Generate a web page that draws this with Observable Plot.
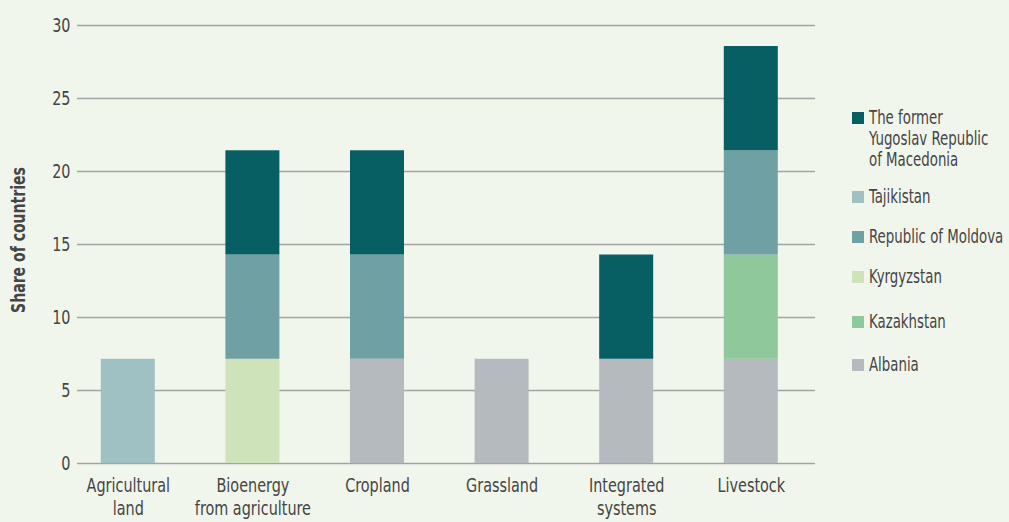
<!DOCTYPE html>
<html>
<head>
<meta charset="utf-8">
<script src="https://cdn.jsdelivr.net/npm/d3@7"></script>
<script src="https://cdn.jsdelivr.net/npm/@observablehq/plot@0.6"></script>
<style>
  html, body { margin: 0; padding: 0; background: #f1f6ec; }
  #wrap { position: relative; width: 1009px; height: 522px; font-family: "DejaVu Sans Condensed", "DejaVu Sans", sans-serif; color: #454545; overflow: hidden; }
  #ylabel { position: absolute; left: 18px; top: 240px; transform: translate(-50%, -50%) rotate(-90deg) scaleX(0.78); font-size: 20px; font-weight: bold; white-space: nowrap; }
  #legend { position: absolute; left: 852px; top: 107px; font-size: 19px; }
  .item { display: flex; align-items: flex-start; line-height: 21px; }
  .sw { width: 12px; height: 12px; margin-top: 5px; margin-right: 5px; flex: none; }
  .lt { white-space: pre; transform: scaleX(0.78); transform-origin: left center; }
</style>
</head>
<body>
<div id="wrap">
  <div id="chart"></div>
  <div id="ylabel">Share of countries</div>
  <div id="legend"></div>
</div>
<script>
const categories = ["Agricultural\nland", "Bioenergy\nfrom agriculture", "Cropland", "Grassland", "Integrated\nsystems", "Livestock"];
// stack order bottom -> top
const countries = ["Albania", "Kazakhstan", "Kyrgyzstan", "Republic of Moldova", "Tajikistan", "The former Yugoslav Republic of Macedonia"];
const colors = ["#b4babd", "#8fc89b", "#cfe3bb", "#6fa0a4", "#9fc1c4", "#075e63"];
const albania    = [0, 0, 7.14, 7.14, 7.14, 7.14];
const kazakhstan = [0, 0, 0, 0, 0, 7.14];
const kyrgyzstan = [0, 7.14, 0, 0, 0, 0];
const moldova    = [0, 7.14, 7.14, 0, 0, 7.14];
const tajikistan = [7.14, 0, 0, 0, 0, 0];
const macedonia  = [0, 7.14, 7.14, 0, 7.14, 7.14];
const yTicks = [0, 5, 10, 15, 20, 25, 30];
const legendLabels = ["The former\nYugoslav Republic\nof Macedonia", "Tajikistan", "Republic of Moldova", "Kyrgyzstan", "Kazakhstan", "Albania"];

const series = [albania, kazakhstan, kyrgyzstan, moldova, tajikistan, macedonia];
const rows = [];
countries.forEach((c, i) => categories.forEach((cat, j) => {
  if (series[i][j] > 0) rows.push({category: cat, country: c, value: series[i][j]});
}));

const chart = Plot.plot({
  width: 1009,
  height: 522,
  marginLeft: 77,
  marginRight: 194,
  marginTop: 25,
  marginBottom: 59,
  style: {background: "transparent", fontFamily: "'DejaVu Sans Condensed', 'DejaVu Sans', sans-serif", color: "#454545", fontSize: "20px"},
  x: {domain: categories, paddingInner: 0.5666, paddingOuter: 0.2448, align: 0.39, round: false},
  y: {domain: [0, 30]},
  color: {domain: countries, range: colors},
  marks: [
    Plot.ruleY(yTicks, {stroke: "#a3a3a3", strokeWidth: 1.3}),
    Plot.barY(rows, Plot.stackY({x: "category", y: "value", fill: "country", order: countries})),
    Plot.axisY({ticks: yTicks, tickSize: 0, tickPadding: 7, label: null, fontSize: 20}),
    Plot.axisX({tickSize: 0, tickPadding: 12, label: null, fontSize: 20, lineHeight: 1.15})
  ]
});
document.getElementById("chart").appendChild(chart);

// condense axis texts horizontally (narrow typeface look)
chart.querySelectorAll("g[aria-label$='tick label'] text").forEach(t => {
  const parts = t.querySelectorAll("tspan");
  const els = parts.length ? Array.from(parts) : [t];
  els.forEach(el => {
    const w = el.getComputedTextLength();
    el.setAttribute("textLength", (w * 0.8).toFixed(1));
    el.setAttribute("lengthAdjust", "spacingAndGlyphs");
  });
});

const legend = document.getElementById("legend");
const legendOrder = countries.slice().reverse();
const gaps = [0, 16, 19, 19, 24, 22];
legendOrder.forEach((c, k) => {
  const d = document.createElement("div");
  d.className = "item";
  d.style.marginTop = gaps[k] + "px";
  const sw = document.createElement("div");
  sw.className = "sw";
  sw.style.background = colors[countries.indexOf(c)];
  const t = document.createElement("div");
  t.className = "lt";
  t.textContent = legendLabels[k];
  d.appendChild(sw); d.appendChild(t);
  legend.appendChild(d);
});
</script>
</body>
</html>
